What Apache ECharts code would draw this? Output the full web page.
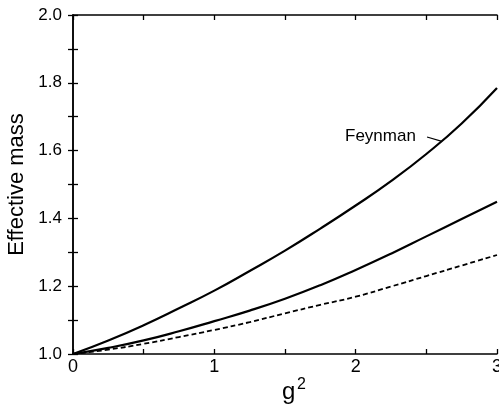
<!DOCTYPE html>
<html>
<head>
<meta charset="utf-8">
<script src="https://cdn.jsdelivr.net/npm/echarts@6/dist/echarts.min.js"></script>
<style>html,body{margin:0;padding:0;background:#fff;}#c{width:499px;height:405px;}</style>
</head>
<body>
<div id="c"></div>
<script>
var g2 = [0, 0.25, 0.5, 0.75, 1.0, 1.25, 1.5, 1.75, 2.0, 2.25, 2.5, 2.75, 3.0];
var feynman = [1.0, 1.040, 1.085, 1.135, 1.187, 1.245, 1.305, 1.370, 1.438, 1.510, 1.590, 1.680, 1.785];
var middle  = [1.0, 1.018, 1.040, 1.067, 1.097, 1.128, 1.163, 1.203, 1.248, 1.296, 1.347, 1.398, 1.449];
var dashed  = [1.0, 1.013, 1.030, 1.050, 1.071, 1.094, 1.120, 1.145, 1.169, 1.199, 1.230, 1.261, 1.292];
var xTicks = [0, 1, 2, 3];
var yTicks = [1.0, 1.2, 1.4, 1.6, 1.8, 2.0];
var leader = [[2.505, 1.640], [2.604, 1.628]];

function pairs(xs, ys){ return xs.map(function(x,i){ return [x, ys[i]]; }); }
function isTick(list, v){ return list.some(function(t){ return Math.abs(t - v) < 1e-6; }); }
var font = 'Liberation Sans, Arial, Helvetica, sans-serif';
var axLine = {show:true, lineStyle:{color:'#000', width:1.5}};
var tick = {show:true, inside:true, length:5, lineStyle:{color:'#000', width:1.3}};

var chart = echarts.init(document.getElementById('c'), null, {renderer:'canvas'});
chart.setOption({
  animation:false,
  backgroundColor:'#fff',
  grid:{left:73, right:2, top:15, bottom:51, containLabel:false, outerBoundsMode:'none'},
  xAxis:[{
    type:'value', min:0, max:3, interval:0.5, position:'bottom',
    axisLine:axLine, axisTick:tick, splitLine:{show:false},
    axisLabel:{color:'#000', fontSize:18, fontFamily:font, margin:4,
      formatter:function(v){ return isTick(xTicks, v) ? String(Math.round(v)) : ''; }}
  },{
    type:'value', min:0, max:3, interval:0.5, position:'top',
    axisLine:axLine, axisTick:tick, splitLine:{show:false},
    axisLabel:{show:false}
  }],
  yAxis:[{
    type:'value', min:1.0, max:2.0, interval:0.1, position:'left',
    axisLine:axLine, axisTick:tick, splitLine:{show:false},
    name:'Effective mass', nameLocation:'middle', nameGap:43,
    nameTextStyle:{color:'#000', fontSize:22, fontFamily:font},
    axisLabel:{color:'#000', fontSize:17, fontFamily:font, margin:11,
      formatter:function(v){ return isTick(yTicks, v) ? v.toFixed(1) : ''; }}
  },{
    type:'value', min:1.0, max:2.0, interval:0.1, position:'right',
    axisLine:axLine, axisTick:tick, splitLine:{show:false},
    axisLabel:{show:false}
  }],
  series:[{
    type:'line', name:'Feynman', data:pairs(g2, feynman), smooth:true, showSymbol:false,
    lineStyle:{color:'#000', width:2.2}, z:3,
    markLine:{silent:true, symbol:['none','none'], label:{show:false},
      lineStyle:{color:'#000', width:1.2, type:'solid'},
      data:[[{coord:leader[0]},{coord:leader[1]}]]}
  },{
    type:'line', name:'middle', data:pairs(g2, middle), smooth:true, showSymbol:false,
    lineStyle:{color:'#000', width:2.2}, z:3
  },{
    type:'line', name:'dashed', data:pairs(g2, dashed), smooth:true, showSymbol:false,
    lineStyle:{color:'#000', width:1.8, type:[5,3]}, z:3
  }],
  graphic:[
    {type:'text', left:345, top:128, style:{text:'Feynman', fill:'#000', font:'17px ' + font}},
    {type:'text', left:282, top:380, style:{text:'g', fill:'#000', font:'24px ' + font}},
    {type:'text', left:297, top:377, style:{text:'2', fill:'#000', font:'16px ' + font}}
  ]
});
</script>
</body>
</html>
